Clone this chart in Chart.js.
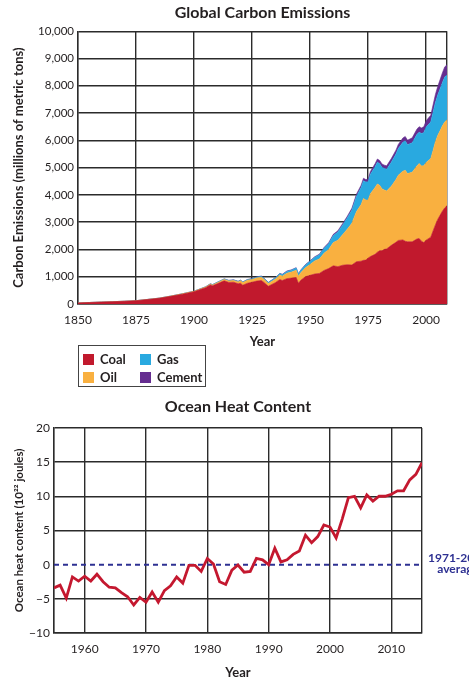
<!DOCTYPE html>
<html>
<head>
<meta charset="utf-8">
<script src="https://cdn.jsdelivr.net/npm/chart.js@4.4.0/dist/chart.umd.min.js"></script>
<style>
html,body{margin:0;padding:0;background:#fff;}
#wrap{position:relative;width:469px;height:692px;overflow:hidden;font-family:Lato,"Noto Sans",sans-serif;}
#c1{position:absolute;left:0;top:0;}
#c2{position:absolute;left:0;top:390px;}
#legend{position:absolute;left:78px;top:345px;width:126px;height:40px;border:1.5px solid #444;box-sizing:content-box;}
.li{position:absolute;display:flex;align-items:center;font-weight:bold;font-size:13px;color:#231f20;line-height:13px;}
.sw{display:inline-block;width:11px;height:11px;margin-right:6px;}
</style>
</head>
<body>
<div id="wrap">
  <canvas id="c1" width="469" height="352"></canvas>
  <div id="legend"></div>
  <canvas id="c2" width="469" height="302"></canvas>
</div>
<script>
// ---------- Global Carbon Emissions (millions of metric tons of carbon) ----------
const years = [1850,1855,1860,1865,1870,1875,1880,1885,1890,1895,
  1900,1903,1905,1907,1908,1910,1913,1915,1917,1919,
  1920,1921,1923,1925,1927,1929,1930,1932,1935,1937,
  1938,1940,1942,1944,1945,1946,1948,1950,1952,1954,
  1956,1958,1960,1962,1964,1966,1968,1970,1972,1973,
  1974,1975,1976,1978,1979,1980,1981,1982,1983,1985,
  1987,1988,1990,1991,1992,1994,1996,1997,1998,1999,
  2000,2002,2003,2004,2005,2006,2007,2008,2009];
const coal = [40,55,70,85,100,120,165,210,280,360,
  450,540,600,700,670,740,850,790,800,740,
  760,690,760,800,840,860,800,650,780,900,
  860,930,950,970,760,870,1000,1050,1100,1120,
  1230,1300,1400,1370,1420,1440,1430,1550,1570,1600,
  1610,1680,1740,1820,1900,1950,1950,2000,2020,2150,
  2260,2330,2350,2300,2280,2280,2380,2400,2300,2250,
  2340,2450,2680,2900,3100,3250,3400,3520,3600];
const oil = [0,0,0,0,1,2,3,5,9,12,
  16,20,23,28,30,40,50,55,65,70,
  90,95,110,100,115,120,115,100,130,160,
  160,200,220,270,260,280,330,400,480,530,
  630,700,850,970,1120,1300,1530,1840,2080,2270,
  2200,2130,2300,2450,2500,2400,2270,2180,2120,2170,
  2300,2390,2520,2600,2500,2550,2680,2750,2760,2820,
  2850,2880,2950,3050,3080,3100,3130,3150,3150];
const gas = [0,0,0,0,0,0,0,0,3,4,
  5,6,8,10,11,14,16,17,18,19,
  20,20,22,25,30,35,35,35,45,55,
  55,65,70,80,80,85,100,115,130,150,
  180,210,260,300,350,410,480,560,620,650,
  660,670,720,760,800,790,790,790,800,880,
  940,980,1060,1080,1060,1080,1150,1150,1190,1210,
  1300,1340,1400,1440,1480,1530,1580,1650,1640];
const cement = [0,0,0,0,0,0,0,0,0,0,
  0,0,0,2,2,4,5,5,5,5,
  6,6,7,8,9,10,10,8,10,12,
  12,14,14,12,10,12,15,18,22,26,
  30,36,43,48,55,62,68,78,86,90,
  92,95,100,110,115,120,120,120,125,130,
  140,145,157,160,165,180,195,200,205,215,
  226,250,270,290,310,340,360,370,380];
const carbonSeries = ['Coal','Oil','Gas','Cement'];
const carbonXTicks = [1850,1875,1900,1925,1950,1975,2000];
const carbonXMin = 1850, carbonXMax = 2009;
const carbonYMin = 0, carbonYMax = 10000, carbonYStep = 1000;

// ---------- Ocean Heat Content (10^22 joules) ----------
const ohcYears = [1955,1956,1957,1958,1959,1960,1961,1962,1963,1964,
  1965,1966,1967,1968,1969,1970,1971,1972,1973,1974,
  1975,1976,1977,1978,1979,1980,1981,1982,1983,1984,
  1985,1986,1987,1988,1989,1990,1991,1992,1993,1994,
  1995,1996,1997,1998,1999,2000,2001,2002,2003,2004,
  2005,2006,2007,2008,2009,2010,2011,2012,2013,2014,2015];
const ohc = [-3.4,-3.0,-4.9,-1.8,-2.4,-1.7,-2.4,-1.4,-2.5,-3.3,
  -3.4,-4.1,-4.7,-5.9,-4.8,-5.5,-4.0,-5.5,-3.8,-3.1,
  -1.8,-2.7,-0.1,-0.1,-1.0,0.9,0.1,-2.5,-2.9,-0.8,
  -0.05,-1.1,-1.0,0.9,0.7,0.0,2.4,0.4,0.7,1.5,
  2.0,4.3,3.2,4.1,5.8,5.5,3.9,6.7,9.8,10.0,
  8.3,10.2,9.3,10.0,10.0,10.3,10.8,10.8,12.4,13.2,14.9];
const avgX = [1955,2015];
const avgY = [0,0];
const avgLabel = ['1971-2000','average'];
const ohcXTicks = [1960,1970,1980,1990,2000,2010];
const ohcXMin = 1955, ohcXMax = 2015;
const ohcYMin = -10, ohcYMax = 20, ohcYStep = 5;

// ---------- styling ----------
const F = 'Lato, "Noto Sans", sans-serif';
const TXT = '#231f20';
const GRID = '#2b2b2b';
const colors = {Coal:'#c1192d', Oil:'#f9b040', Gas:'#29a9e0', Cement:'#652d90'};
const RED = '#c4182f', NAVY = '#2e3192';

const carbonValues = {Coal:coal, Oil:oil, Gas:gas, Cement:cement};
const carbonDatasets = carbonSeries.map((name, k) => ({
  label: name,
  data: years.map((yr, i) => ({x: yr, y: carbonValues[name][i]})),
  backgroundColor: colors[name],
  borderColor: colors[name],
  borderWidth: 0.6,
  pointRadius: 0,
  tension: 0,
  fill: k === 0 ? 'origin' : '-1'
}));

const gridOpts = {color: GRID, lineWidth: 1.4, drawTicks: false};
const borderOpts = {color: GRID, width: 1.4};

const chart1 = new Chart(document.getElementById('c1'), {
  type: 'line',
  data: {datasets: carbonDatasets},
  options: {
    responsive: false, animation: false,
    layout: {padding: {left: 0, right: 22, top: 0, bottom: 0}},
    plugins: {
      legend: {display: false}, tooltip: {enabled: false},
      title: {display: true, text: 'Global Carbon Emissions', color: TXT, fullSize: false,
        font: {family: F, size: 16, weight: 'bold'}, padding: {top: 3, bottom: 9}}
    },
    scales: {
      x: {
        type: 'linear', min: carbonXMin, max: carbonXMax, z: 1,
        afterBuildTicks: s => { s.ticks = carbonXTicks.concat([carbonXMax]).map(v => ({value: v})); },
        afterFit: s => { s.height = 48; },
        ticks: {autoSkip: false, maxRotation: 0, padding: 9, color: TXT, font: {family: F, size: 12},
          callback: v => carbonXTicks.includes(v) ? String(v) : ''},
        grid: gridOpts, border: borderOpts,
        title: {display: true, text: 'Year', color: TXT, font: {family: F, size: 13, weight: 'bold'}, padding: {top: 0, bottom: 2}}
      },
      y: {
        stacked: true, min: carbonYMin, max: carbonYMax, z: 1,
        afterFit: s => { s.width = 78; },
        ticks: {stepSize: carbonYStep, padding: 4, color: TXT, font: {family: F, size: 11.5},
          callback: v => v.toLocaleString('en-US')},
        grid: gridOpts, border: borderOpts,
        title: {display: true, text: 'Carbon Emissions (millions of metric tons)', color: TXT,
          font: {family: F, size: 13, weight: 'bold'}, padding: {top: 11, bottom: 0}}
      }
    }
  }
});

// HTML legend built from the chart's datasets (order: Coal, Gas / Oil, Cement)
(function buildLegend(){
  const lg = document.getElementById('legend');
  const order = ['Coal','Gas','Oil','Cement'];
  const pos = {Coal:[4,7], Gas:[61,7], Oil:[4,25], Cement:[61,25]};
  order.forEach(name => {
    const ds = chart1.data.datasets.find(d => d.label === name);
    const el = document.createElement('div');
    el.className = 'li';
    el.style.left = pos[name][0] + 'px';
    el.style.top = pos[name][1] + 'px';
    el.innerHTML = '<span class="sw" style="background:' + ds.backgroundColor + '"></span>' + ds.label;
    lg.appendChild(el);
  });
})();

const avgLabelPlugin = {
  id: 'avgLabel',
  afterDraw(chart) {
    const {ctx, chartArea, scales} = chart;
    const y0 = scales.y.getPixelForValue(avgY[0]);
    ctx.save();
    ctx.font = 'bold 12px ' + F;
    ctx.fillStyle = NAVY;
    ctx.textBaseline = 'alphabetic';
    const x0 = chartArea.right + 6;
    const w1 = ctx.measureText(avgLabel[0]).width;
    ctx.textAlign = 'left';
    ctx.fillText(avgLabel[0], x0, y0 - 2.5);
    ctx.textAlign = 'center';
    ctx.fillText(avgLabel[1], x0 + w1 / 2, y0 + 8.8);
    ctx.restore();
  }
};

new Chart(document.getElementById('c2'), {
  type: 'line',
  data: {datasets: [
    {label: 'Ocean heat content', data: ohcYears.map((yr, i) => ({x: yr, y: ohc[i]})),
      borderColor: RED, borderWidth: 2.8, pointRadius: 0, tension: 0, fill: false},
    {label: avgLabel.join(' '), data: avgX.map((x, i) => ({x: x, y: avgY[i]})),
      borderColor: NAVY, borderWidth: 2, borderDash: [5, 4], pointRadius: 0, fill: false}
  ]},
  options: {
    responsive: false, animation: false,
    layout: {padding: {left: 0, right: 47, top: 0, bottom: 0}},
    plugins: {
      legend: {display: false}, tooltip: {enabled: false},
      title: {display: true, text: 'Ocean Heat Content', color: TXT, fullSize: false,
        font: {family: F, size: 16, weight: 'bold'}, padding: {top: 7.7, bottom: 11}}
    },
    scales: {
      x: {
        type: 'linear', min: ohcXMin, max: ohcXMax,
        afterBuildTicks: s => { s.ticks = [ohcXMin].concat(ohcXTicks, [ohcXMax]).map(v => ({value: v})); },
        afterFit: s => { s.height = 59; },
        ticks: {autoSkip: false, maxRotation: 0, padding: 9, color: TXT, font: {family: F, size: 12},
          callback: v => ohcXTicks.includes(v) ? String(v) : ''},
        grid: gridOpts, border: borderOpts,
        title: {display: true, text: 'Year', color: TXT, font: {family: F, size: 13, weight: 'bold'}, padding: {top: 0, bottom: 11}}
      },
      y: {
        min: ohcYMin, max: ohcYMax,
        afterFit: s => { s.width = 54; },
        ticks: {stepSize: ohcYStep, padding: 4, color: TXT, font: {family: F, size: 12},
          callback: v => v < 0 ? '\u2212' + Math.abs(v) : String(v)},
        grid: {color: c => (c.tick && c.tick.value === 0) ? 'rgba(0,0,0,0)' : GRID, lineWidth: 1.4, drawTicks: false},
        border: borderOpts,
        title: {display: true, text: 'Ocean heat content (10²² joules)', color: TXT,
          font: {family: F, size: 11.5, weight: 'bold'}, padding: {top: 12, bottom: 0}}
      }
    }
  },
  plugins: [avgLabelPlugin]
});
</script>
</body>
</html>
